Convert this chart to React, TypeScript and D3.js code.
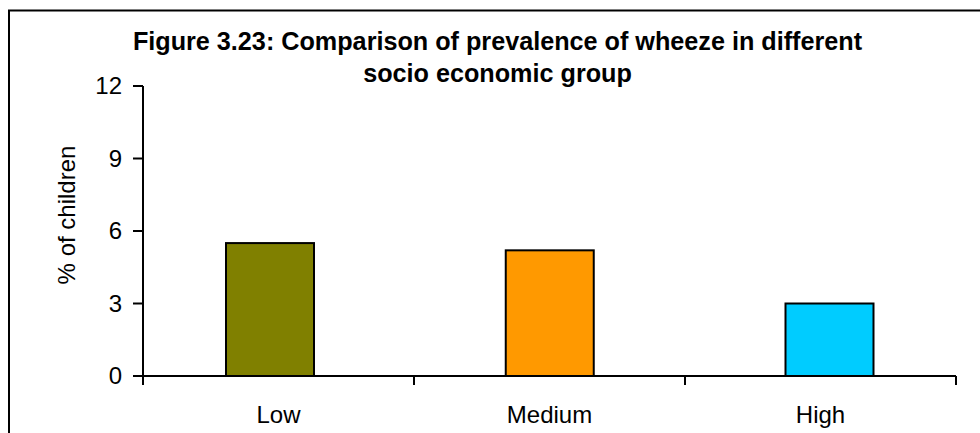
import React from "react";
import * as d3 from "d3";

const categories = ["Low", "Medium", "High"];
const values = [5.5, 5.2, 3.0];
const barColors = ["#808000", "#FF9900", "#00CCFF"];
const yTicks = [0, 3, 6, 9, 12];
const titleLines = [
  "Figure 3.23: Comparison of prevalence of wheeze in different",
  "socio economic group",
];
const yAxisTitle = "% of children";

const W = 980;
const H = 433;
const FONT = "'Liberation Sans', Arial, sans-serif";

export default function App() {
  const left = 143;
  const right = 956;
  const top = 86;
  const bottom = 376;

  const y = d3.scaleLinear().domain([0, 12]).range([bottom, top]);
  const x = d3.scaleBand<string>().domain(categories).range([left, right]).padding(0);
  const xBar = d3.scalePoint<string>().domain(categories).range([270, 829.5]);
  const barW = 88;

  const boundaries = [...categories.map((c) => x(c) as number), right];

  return (
    <svg
      width={W}
      height={H}
      style={{ position: "absolute", left: 0, top: 0, background: "#fff" }}
    >
      <rect x={9} y={10.5} width={1100} height={600} fill="#fff" stroke="#000" strokeWidth={2} />

      {titleLines.map((t, i) => (
        <text
          key={i}
          x={497.5}
          y={50 + i * 31.5}
          textAnchor="middle"
          fontFamily={FONT}
          fontWeight="bold"
          fontSize={25.2}
          fill="#000"
        >
          {t}
        </text>
      ))}

      <text
        transform={`translate(75,${(top + bottom) / 2 - 16}) rotate(-90)`}
        textAnchor="middle"
        fontFamily={FONT}
        fontSize={24}
        fill="#000"
      >
        {yAxisTitle}
      </text>

      {categories.map((c, i) => (
        <rect
          key={c}
          x={(xBar(c) as number) - barW / 2}
          y={y(values[i])}
          width={barW}
          height={y(0) - y(values[i])}
          fill={barColors[i]}
          stroke="#000"
          strokeWidth={2}
        />
      ))}

      {/* y axis */}
      <line x1={left} x2={left} y1={top} y2={bottom} stroke="#000" strokeWidth={2} />
      {yTicks.map((t) => (
        <g key={t}>
          <line x1={left - 10} x2={left} y1={y(t)} y2={y(t)} stroke="#000" strokeWidth={2} />
          <text
            x={left - 21}
            y={y(t)}
            dy="0.35em"
            textAnchor="end"
            fontFamily={FONT}
            fontSize={24}
            fill="#000"
          >
            {t}
          </text>
        </g>
      ))}

      {/* x axis */}
      <line x1={left} x2={right} y1={y(0)} y2={y(0)} stroke="#000" strokeWidth={2} />
      {boundaries.map((b, i) => (
        <line key={i} x1={b} x2={b} y1={y(0)} y2={y(0) + 9} stroke="#000" strokeWidth={2} />
      ))}
      {categories.map((c) => (
        <text
          key={c}
          x={(x(c) as number) + x.bandwidth() / 2}
          y={423}
          textAnchor="middle"
          fontFamily={FONT}
          fontSize={24}
          fill="#000"
        >
          {c}
        </text>
      ))}
    </svg>
  );
}
